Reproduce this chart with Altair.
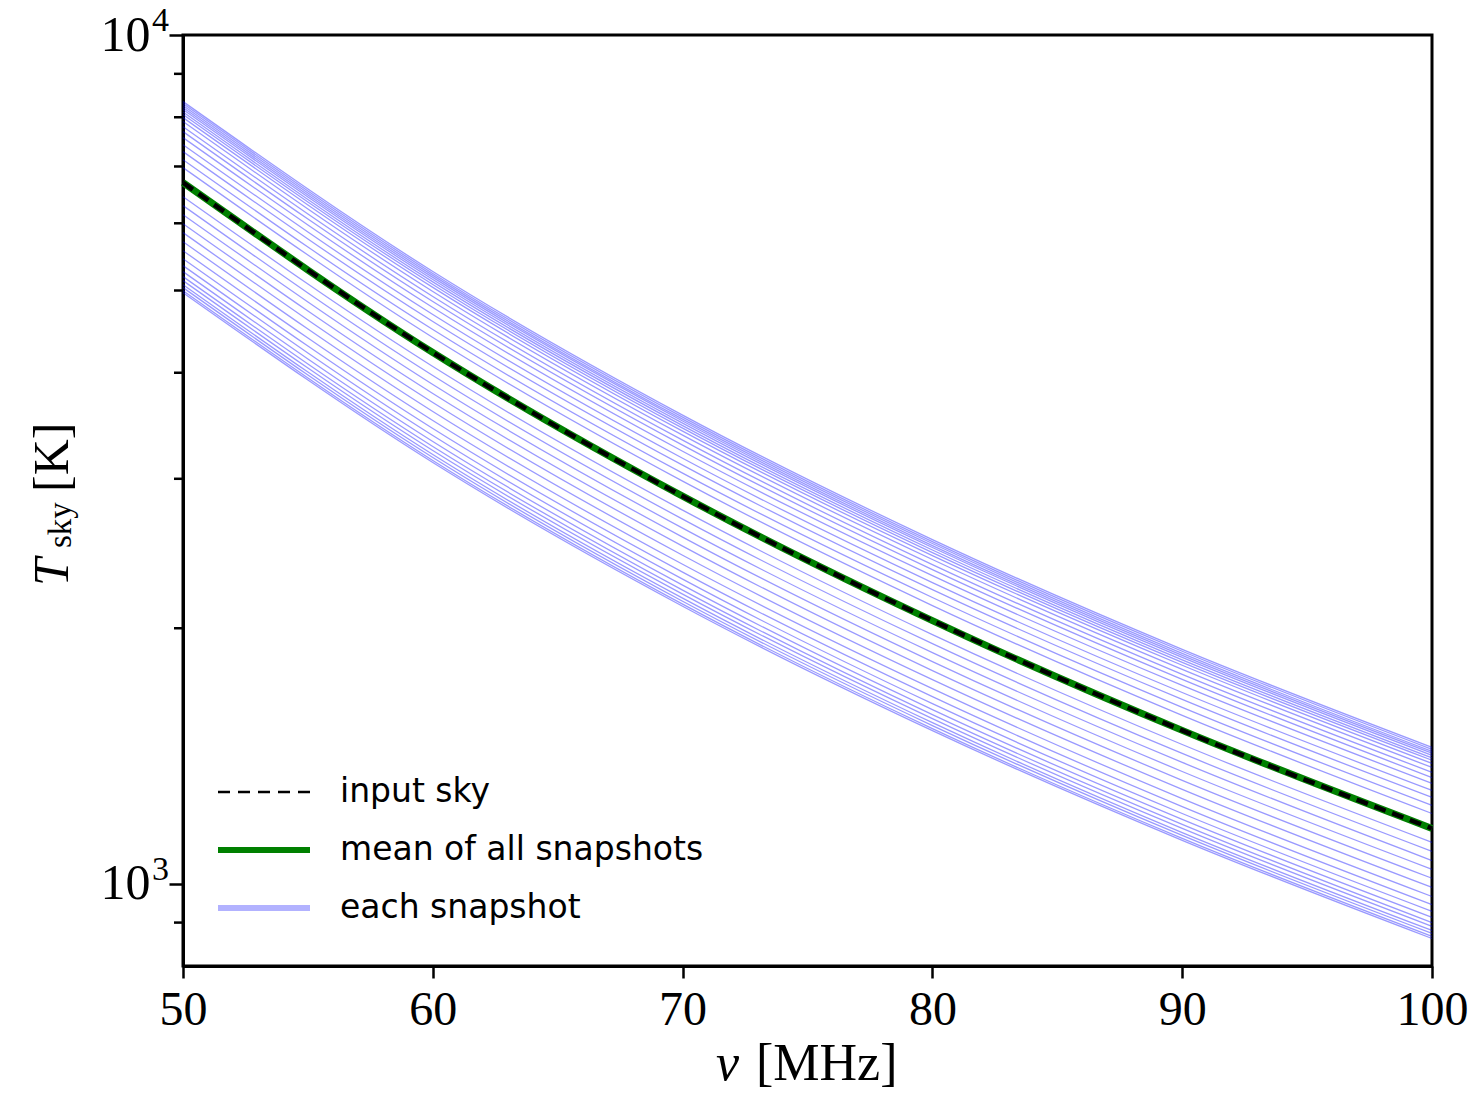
import altair as alt
import pandas as pd

# Frequencies (MHz) at which every spectrum is tabulated
FREQS = [50, 60, 70, 80, 90, 100]

# Sky temperature (K) of the input model and of the mean over snapshots
INPUT_SKY = [6700, 4226, 2862, 2042, 1516, 1162]
MEAN_SNAPSHOTS = [6700, 4226, 2862, 2042, 1516, 1162]

# Sky temperature (K) seen in each individual snapshot
SNAPSHOTS = [
    [8348, 5265, 3566, 2544, 1889, 1448],
    [8303, 5237, 3547, 2530, 1879, 1440],
    [8258, 5209, 3527, 2517, 1868, 1432],
    [8214, 5181, 3509, 2503, 1858, 1425],
    [8169, 5152, 3489, 2490, 1848, 1417],
    [8114, 5118, 3466, 2473, 1836, 1407],
    [8059, 5083, 3442, 2456, 1823, 1398],
    [7993, 5042, 3414, 2436, 1809, 1386],
    [7907, 4987, 3377, 2410, 1789, 1371],
    [7799, 4920, 3332, 2377, 1765, 1353],
    [7694, 4853, 3287, 2345, 1741, 1334],
    [7570, 4775, 3233, 2307, 1713, 1313],
    [7427, 4685, 3172, 2264, 1680, 1288],
    [7288, 4597, 3113, 2221, 1649, 1264],
    [7131, 4498, 3046, 2174, 1614, 1237],
    [6978, 4401, 2981, 2127, 1579, 1210],
    [6450, 4068, 2755, 1966, 1459, 1119],
    [6295, 3970, 2689, 1918, 1424, 1092],
    [6143, 3875, 2624, 1872, 1390, 1065],
    [5994, 3781, 2561, 1827, 1356, 1040],
    [5850, 3690, 2499, 1783, 1324, 1015],
    [5708, 3601, 2438, 1740, 1292, 990],
    [5570, 3514, 2379, 1698, 1260, 966],
    [5451, 3438, 2329, 1661, 1233, 945],
    [5349, 3374, 2285, 1630, 1210, 928],
    [5263, 3320, 2248, 1604, 1191, 913],
    [5192, 3275, 2218, 1582, 1175, 900],
    [5136, 3239, 2194, 1565, 1162, 891],
    [5080, 3204, 2170, 1548, 1149, 881],
    [5039, 3178, 2152, 1536, 1140, 874],
    [4998, 3153, 2135, 1523, 1131, 867],
    [4971, 3135, 2123, 1515, 1125, 862],
]

X_TICKS = [50, 60, 70, 80, 90, 100]
Y_MAJOR = [1000, 10000]
Y_MINOR = [900, 2000, 3000, 4000, 5000, 6000, 7000, 8000, 9000]
Y_EXPONENTS = ["3", "4"]

LEGEND_LABELS = ["input sky", "mean of all snapshots", "each snapshot"]

SERIF = "Liberation Serif"
SANS = "DejaVu Sans"

snap_rows = [
    {"snapshot": i, "nu": f, "T": t}
    for i, row in enumerate(SNAPSHOTS)
    for f, t in zip(FREQS, row)
]
snap_df = pd.DataFrame(snap_rows)
mean_df = pd.DataFrame({"nu": FREQS, "T": MEAN_SNAPSHOTS})
input_df = pd.DataFrame({"nu": FREQS, "T": INPUT_SKY})
minor_df = pd.DataFrame({"T": Y_MINOR})
expo_df = pd.DataFrame({"T": Y_MAJOR, "e": Y_EXPONENTS})
one = pd.DataFrame({"k": [0]})

x_scale = alt.Scale(domain=[50, 100], nice=False, zero=False)
y_scale = alt.Scale(type="log", domain=[800, 10000], nice=False)

x_enc = alt.X(
    "nu:Q",
    scale=x_scale,
    axis=alt.Axis(
        values=X_TICKS,
        title=None,
        grid=False,
        labelFont=SERIF,
        labelFontSize=48,
        labelColor="black",
        labelPadding=8,
        tickSize=12,
        tickWidth=2.5,
        tickColor="black",
        domainColor="black",
        domainWidth=3,
        labelFlush=False,
    ),
)
y_enc = alt.Y(
    "T:Q",
    scale=y_scale,
    axis=alt.Axis(
        values=Y_MAJOR,
        labelExpr="'10'",
        title=None,
        grid=False,
        labelFont=SERIF,
        labelFontSize=50,
        labelColor="black",
        labelPadding=19,
        labelOverlap=False,
        tickSize=14,
        tickWidth=2.5,
        tickColor="black",
        domainColor="black",
        domainWidth=3,
        labelFlush=False,
    ),
)

snapshots = alt.Chart(snap_df).mark_line(
    color="blue", opacity=0.4, strokeWidth=1.3, interpolate="monotone"
).encode(x=x_enc, y=y_enc, detail="snapshot:N")

mean_line = alt.Chart(mean_df).mark_line(
    color="#008000", strokeWidth=7, interpolate="monotone"
).encode(x=x_enc, y=y_enc)

input_line = alt.Chart(input_df).mark_line(
    color="black", strokeWidth=4.5, strokeDash=[12, 7], interpolate="monotone"
).encode(x=x_enc, y=y_enc)

# short minor ticks on the log axis
minor_ticks = alt.Chart(minor_df).mark_rule(color="black", strokeWidth=2.5).encode(
    y=y_enc,
    x=alt.value(-9),
    x2=alt.value(0),
)

# superscript exponents of the decade labels
exponents = alt.Chart(expo_df).mark_text(
    font=SERIF, fontSize=34, align="left", baseline="alphabetic", dy=-4, color="black"
).encode(
    y=y_enc,
    x=alt.value(-31),
    text="e:N",
)

# y axis title: T_sky [K], rotated
def rotated(text, x, y, size, style="normal"):
    return alt.Chart(one).mark_text(
        text=text, font=SERIF, fontSize=size, fontStyle=style, angle=270,
        align="left", baseline="alphabetic", color="black",
    ).encode(x=alt.value(x), y=alt.value(y))

y_title = (
    rotated("T", -115, 551, 50, "italic")
    + rotated("sky", -112, 513, 33)
    + rotated("[K]", -115, 457, 50)
)

# x axis title: nu [MHz]
def plain(text, x, y, size, style="normal", font=SERIF, align="left"):
    return alt.Chart(one).mark_text(
        text=text, font=font, fontSize=size, fontStyle=style,
        align=align, baseline="alphabetic", color="black",
    ).encode(x=alt.value(x), y=alt.value(y))

x_title = plain("ν", 533, 1045, 52, "italic") + plain("[MHz]", 573, 1045, 52)

# legend in the lower-left corner
def legend_line(y, color, width, opacity=1.0, dash=None):
    kw = dict(color=color, strokeWidth=width, opacity=opacity)
    if dash:
        kw["strokeDash"] = dash
    return alt.Chart(one).mark_rule(**kw).encode(
        x=alt.value(35), x2=alt.value(127), y=alt.value(y)
    )

def legend_text(text, y):
    return alt.Chart(one).mark_text(
        text=text, font=SANS, fontSize=33, align="left", baseline="middle", color="black"
    ).encode(x=alt.value(157), y=alt.value(y))

legend = (
    legend_line(757, "black", 2.5, dash=[12, 8])
    + legend_line(815, "#008000", 6)
    + legend_line(873, "blue", 6, opacity=0.3)
    + legend_text(LEGEND_LABELS[0], 757)
    + legend_text(LEGEND_LABELS[1], 815)
    + legend_text(LEGEND_LABELS[2], 873)
)

chart = (
    alt.layer(
        snapshots, mean_line, input_line, minor_ticks, exponents,
        y_title, x_title, legend,
    )
    .properties(
        width=1249,
        height=931,
        padding={"left": 183, "top": 35, "right": 44, "bottom": 128},
        autosize=alt.AutoSizeParams(type="none"),
        background="white",
    )
    .configure_view(stroke="black", strokeWidth=3)
)

chart.save("out.html", embed_options={"renderer": "svg", "actions": False})
